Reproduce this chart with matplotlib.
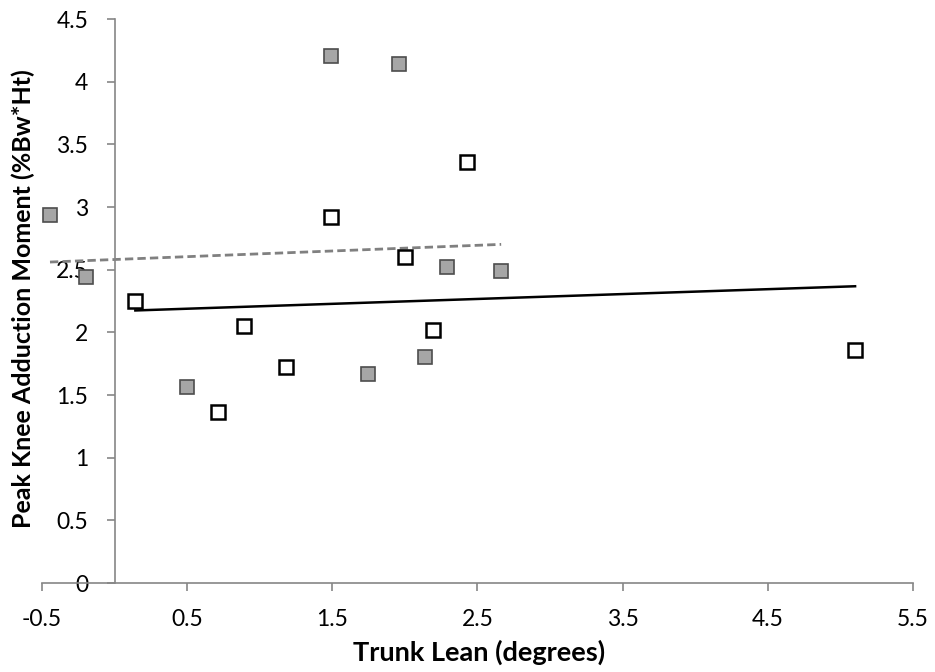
import numpy as np
import matplotlib
matplotlib.use("Agg")
import matplotlib.pyplot as plt

# Group A (gray filled squares)
gray_x = [-0.445, -0.199, 0.497, 1.490, 1.961, 2.291, 2.663, 2.140, 1.745]
gray_y = [2.94, 2.445, 1.567, 4.206, 4.14, 2.52, 2.488, 1.806, 1.668]

# Group B (open squares)
open_x = [0.143, 0.891, 1.183, 0.710, 1.488, 2.425, 2.002, 2.193, 5.101]
open_y = [2.248, 2.053, 1.724, 1.362, 2.921, 3.36, 2.602, 2.019, 1.86]

x_ticks = [-0.5, 0.5, 1.5, 2.5, 3.5, 4.5, 5.5]
y_ticks = [0, 0.5, 1, 1.5, 2, 2.5, 3, 3.5, 4, 4.5]
x_tick_labels = ["-0.5", "0.5", "1.5", "2.5", "3.5", "4.5", "5.5"]
y_tick_labels = ["0", "0.5", "1", "1.5", "2", "2.5", "3", "3.5", "4", "4.5"]

plt.rcParams['font.family'] = ['Lato', 'DejaVu Sans']

fig = plt.figure(figsize=(9.35, 6.72), dpi=100)
ax = fig.add_axes([42/935, 89/672, 871/935, 564/672])

ax.set_xlim(-0.5, 5.5)
ax.set_ylim(0, 4.5)

# trend lines
gx = np.array(gray_x); gy = np.array(gray_y)
ox = np.array(open_x); oy = np.array(open_y)
pg = np.polyfit(gx, gy, 1)
po = np.polyfit(ox, oy, 1)
xg = np.array([gx.min(), gx.max()])
xo = np.array([ox.min(), ox.max()])
ax.plot(xg, np.polyval(pg, xg), color='#808080', lw=2, ls=(0, (3, 1.5)), zorder=2)
ax.plot(xo, np.polyval(po, xo), color='black', lw=1.8, zorder=2)

ax.plot(gray_x, gray_y, ls='none', marker='s', markersize=10,
        markerfacecolor='#A6A6A6', markeredgecolor='#4d4d4d', markeredgewidth=1.2, zorder=3)
ax.plot(open_x, open_y, ls='none', marker='s', markersize=10,
        markerfacecolor='white', markeredgecolor='black', markeredgewidth=1.8, zorder=3)

for s in ['top', 'right']:
    ax.spines[s].set_visible(False)
ax.spines['left'].set_position(('data', 0))
for s in ['left', 'bottom']:
    ax.spines[s].set_color('#868686')
    ax.spines[s].set_linewidth(1.2)

ax.set_xticks(x_ticks)
ax.set_xticklabels(x_tick_labels)
ax.set_yticks(y_ticks)
ax.set_yticklabels(y_tick_labels)
ax.tick_params(axis='both', direction='out', length=6, width=1.2, color='#868686',
               labelsize=16.5, labelcolor='black')
ax.tick_params(axis='x', pad=12.5)
ax.tick_params(axis='y', pad=13)

fig.text(479/935, 1 - 652/672, 'Trunk Lean (degrees)', ha='center', va='center',
         fontsize=19.5, fontweight='bold')
fig.text(23/935, 1 - 299/672, 'Peak Knee Adduction Moment (%Bw*Ht)', ha='center', va='center',
         rotation=90, fontsize=18, fontweight='bold')

fig.savefig('out.png', dpi=100)
